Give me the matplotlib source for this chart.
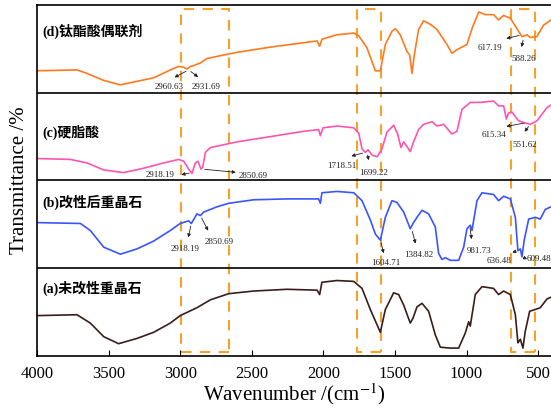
import matplotlib.pyplot as plt
from matplotlib.patches import Rectangle

# Fonts
plt.rcParams['font.family'] = ['Liberation Serif', 'Noto Sans CJK SC']
plt.rcParams['mathtext.fontset'] = 'stix'

# Spectra (wavenumber, relative transmittance inside each panel)
wn_d = [4000, 3721, 3651, 3534, 3418, 3302, 3185, 3069, 3011, 2976, 2952, 2929, 2905, 2859, 2813, 2696,
        2603, 2370, 2138, 2044, 2026, 2010, 1905, 1788, 1753, 1695, 1637, 1602, 1567, 1521, 1497, 1463,
        1416, 1397, 1381, 1365, 1335, 1300, 1253, 1206, 1137, 1102, 1067, 1032, 997, 962, 915, 869,
        811, 776, 741, 694, 648, 613, 578, 555, 508, 462, 410]
t_d = [0.25, 0.26, 0.22, 0.14, 0.09, 0.13, 0.17, 0.26, 0.30, 0.29, 0.27, 0.30, 0.31, 0.34, 0.39, 0.43,
       0.46, 0.52, 0.57, 0.59, 0.53, 0.61, 0.66, 0.68, 0.65, 0.51, 0.25, 0.25, 0.55, 0.70, 0.73, 0.66,
       0.47, 0.43, 0.22, 0.43, 0.72, 0.82, 0.78, 0.72, 0.55, 0.45, 0.49, 0.52, 0.55, 0.73, 0.92, 0.89,
       0.89, 0.83, 0.88, 0.85, 0.73, 0.64, 0.66, 0.63, 0.64, 0.77, 0.83]

wn_c = [4000, 3767, 3651, 3534, 3395, 3255, 3115, 3011, 2976, 2941, 2918, 2894, 2876, 2855, 2843, 2824,
        2789, 2603, 2370, 2138, 2033, 2021, 2003, 1905, 1788, 1753, 1730, 1707, 1688, 1660, 1625, 1591,
        1556, 1509, 1481, 1458, 1439, 1393, 1370, 1335, 1300, 1241, 1206, 1160, 1102, 1067, 1032, 974,
        904, 811, 776, 741, 722, 706, 683, 636, 601, 555, 508, 438, 410]
t_c = [0.25, 0.24, 0.20, 0.12, 0.09, 0.14, 0.20, 0.24, 0.22, 0.13, 0.08, 0.20, 0.22, 0.13, 0.15, 0.32,
       0.375, 0.44, 0.50, 0.56, 0.58, 0.51, 0.60, 0.62, 0.60, 0.54, 0.36, 0.32, 0.35, 0.29, 0.27, 0.36,
       0.55, 0.63, 0.53, 0.375, 0.44, 0.33, 0.44, 0.58, 0.64, 0.67, 0.62, 0.64, 0.53, 0.56, 0.81, 0.89,
       0.89, 0.905, 0.85, 0.85, 0.70, 0.77, 0.78, 0.68, 0.66, 0.64, 0.68, 0.83, 0.86]

wn_b = [4000, 3697, 3628, 3534, 3418, 3302, 3185, 3069, 3000, 2941, 2922, 2883, 2859, 2836, 2743, 2661,
        2487, 2254, 2033, 2021, 2010, 1905, 1788, 1730, 1672, 1637, 1602, 1567, 1521, 1486, 1439, 1393,
        1374, 1346, 1311, 1265, 1218, 1195, 1172, 1148, 1113, 1055, 1020, 997, 974, 962, 927, 892,
        811, 776, 741, 694, 659, 641, 624, 613, 597, 566, 520, 485, 450, 410]
t_b = [0.52, 0.51, 0.43, 0.24, 0.16, 0.22, 0.31, 0.43, 0.51, 0.54, 0.51, 0.62, 0.60, 0.64, 0.70, 0.74,
       0.78, 0.79, 0.79, 0.74, 0.86, 0.875, 0.86, 0.77, 0.55, 0.39, 0.32, 0.58, 0.77, 0.75, 0.64, 0.45,
       0.51, 0.58, 0.66, 0.62, 0.47, 0.17, 0.10, 0.12, 0.09, 0.09, 0.24, 0.45, 0.49, 0.43, 0.77, 0.86,
       0.84, 0.77, 0.82, 0.79, 0.58, 0.20, 0.22, 0.13, 0.32, 0.56, 0.58, 0.56, 0.67, 0.70]

wn_a = [4000, 3721, 3628, 3534, 3430, 3302, 3185, 3069, 3000, 2883, 2789, 2661, 2487, 2254, 2044, 2026,
        2010, 1905, 1788, 1730, 1672, 1602, 1567, 1509, 1474, 1439, 1393, 1374, 1346, 1311, 1265, 1218,
        1183, 1113, 1055, 1009, 985, 974, 939, 892, 811, 776, 741, 694, 659, 641, 624, 606, 590,
        559, 520, 485, 438, 410]
t_a = [0.46, 0.47, 0.375, 0.22, 0.14, 0.20, 0.27, 0.375, 0.46, 0.55, 0.64, 0.71, 0.74, 0.76, 0.75, 0.70,
       0.84, 0.86, 0.85, 0.77, 0.53, 0.27, 0.53, 0.72, 0.70, 0.58, 0.375, 0.43, 0.56, 0.60, 0.51, 0.24,
       0.10, 0.09, 0.09, 0.26, 0.39, 0.34, 0.70, 0.79, 0.77, 0.70, 0.74, 0.70, 0.47, 0.15, 0.19, 0.09, 0.28,
       0.51, 0.53, 0.55, 0.65, 0.67]

labels = ['(a)未改性重晶石', '(b)改性后重晶石', '(c)硬脂酸', '(d)钛酯酸偶联剂']
label_y = [0.77, 0.75, 0.55, 0.70]
colors = ['#3b1c1c', '#3a55ff', '#ff55b0', '#ff7a1f']

# Peak annotations: panel, text, text (wn, y), arrow tail (wn, y), arrow head (wn, y)
peaks = [
    (3, '2960.63', (3080, 0.07), (2941, 0.26), (3057, 0.16)),
    (3, '2931.69', (2817, 0.07), (2941, 0.26), (2859, 0.16)),
    (3, '617.19', (834, 0.515), (613, 0.66), (741, 0.61)),
    (3, '588.26', (601, 0.39), (600, 0.63), (620, 0.49)),
    (2, '2918.19', (3139, 0.06), (2918, 0.09), (3011, 0.06)),
    (2, '2850.69', (2487, 0.05), (2848, 0.13), (2592, 0.09)),
    (2, '1718.51', (1870, 0.17), (1707, 0.32), (1823, 0.27)),
    (2, '1699.22', (1649, 0.09), (1695, 0.32), (1679, 0.20)),
    (2, '615.34', (811, 0.515), (578, 0.66), (741, 0.61)),
    (2, '551.62', (590, 0.41), (555, 0.64), (606, 0.53)),
    (1, '2918.19', (2964, 0.22), (2922, 0.51), (2948, 0.32)),
    (1, '2850.69', (2731, 0.30), (2859, 0.60), (2796, 0.40)),
    (1, '1604.71', (1567, 0.06), (1602, 0.32), (1574, 0.14)),
    (1, '1384.82', (1334, 0.15), (1384, 0.45), (1351, 0.25)),
    (1, '981.73', (915, 0.20), (978, 0.49), (962, 0.30)),
    (1, '636.48', (776, 0.08), (641, 0.20), (699, 0.17)),
    (1, '609.48', (496, 0.11), (613, 0.13), (559, 0.09)),
]

# Highlighted regions (wn_left, wn_right)
boxes = [(2995, 2660), (1765, 1600), (690, 522)]

fig = plt.figure(figsize=(5.51, 4.08), dpi=100)
ax = fig.add_axes([0.0672, 0.1275, 0.9328, 0.8603])

# Plot the stacked spectra
for i, (wn, t) in enumerate([(wn_a, t_a), (wn_b, t_b), (wn_c, t_c), (wn_d, t_d)]):
    ax.plot(wn, [v + i for v in t], color=colors[i], lw=1.2)
    ax.text(3965, i + label_y[i], labels[i], fontsize=10, fontweight='bold', va='center', ha='left')

# Panel separators
for y in [1, 2, 3]:
    ax.axhline(y, color='black', lw=1.2)

# Peak labels and arrows
for panel, txt, pos, tail, head in peaks:
    ax.text(pos[0], panel + pos[1], txt, fontsize=6.5, ha='center', va='center', color='#222222')
    ax.annotate('', xy=(head[0], panel + head[1]), xytext=(tail[0], panel + tail[1]),
                arrowprops=dict(arrowstyle='-|>', color='#222222', lw=0.6, mutation_scale=5))

# Orange dashed boxes
for left, right in boxes:
    ax.add_patch(Rectangle((right, 0.045), left - right, 3.91, fill=False,
                           edgecolor='#f7a128', lw=1.5, ls=(0, (5, 4))))

ax.set_xlim(4000, 410)
ax.set_ylim(0, 4)
ax.set_xticks([4000, 3500, 3000, 2500, 2000, 1500, 1000, 500])
ax.set_yticks([])
ax.tick_params(axis='x', direction='in', length=4, labelsize=12, pad=7)
ax.spines['right'].set_visible(False)
for s in ['left', 'top', 'bottom']:
    ax.spines[s].set_linewidth(1.2)

ax.set_xlabel('Wavenumber /(cm$^{-1}$)', fontsize=15, labelpad=0)
ax.set_ylabel('Transmittance /%', fontsize=15, labelpad=6)

fig.savefig('out.png', dpi=100)
